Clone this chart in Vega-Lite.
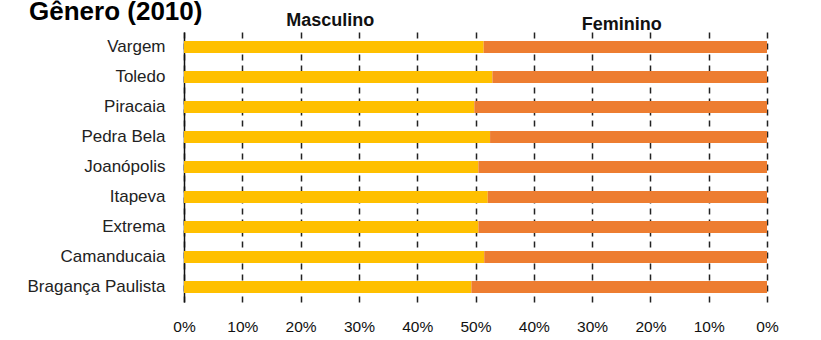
{
  "$schema": "https://vega.github.io/schema/vega-lite/v6.json",
  "width": 583,
  "height": 270,
  "autosize": {"type": "none"},
  "padding": {"left": 184, "top": 32, "right": 54, "bottom": 38},
  "background": "white",
  "title": {"text": "Gênero (2010)", "anchor": "start", "frame": "bounds", "fontSize": 26, "font": "Liberation Sans", "fontWeight": "bold", "color": "#000", "offset": 2, "dy": 16, "dx": 2},
  "config": {"view": {"stroke": null}},
  "layer": [
    {
      "data": {"values": [
        {"municipio": "Vargem", "genero": "Masculino", "valor": 51.4},
        {"municipio": "Vargem", "genero": "Feminino", "valor": 48.6},
        {"municipio": "Toledo", "genero": "Masculino", "valor": 52.9},
        {"municipio": "Toledo", "genero": "Feminino", "valor": 47.1},
        {"municipio": "Piracaia", "genero": "Masculino", "valor": 49.8},
        {"municipio": "Piracaia", "genero": "Feminino", "valor": 50.2},
        {"municipio": "Pedra Bela", "genero": "Masculino", "valor": 52.5},
        {"municipio": "Pedra Bela", "genero": "Feminino", "valor": 47.5},
        {"municipio": "Joanópolis", "genero": "Masculino", "valor": 50.5},
        {"municipio": "Joanópolis", "genero": "Feminino", "valor": 49.5},
        {"municipio": "Itapeva", "genero": "Masculino", "valor": 52.1},
        {"municipio": "Itapeva", "genero": "Feminino", "valor": 47.9},
        {"municipio": "Extrema", "genero": "Masculino", "valor": 50.5},
        {"municipio": "Extrema", "genero": "Feminino", "valor": 49.5},
        {"municipio": "Camanducaia", "genero": "Masculino", "valor": 51.5},
        {"municipio": "Camanducaia", "genero": "Feminino", "valor": 48.5},
        {"municipio": "Bragança Paulista", "genero": "Masculino", "valor": 49.3},
        {"municipio": "Bragança Paulista", "genero": "Feminino", "valor": 50.7}
      ]},
      "mark": {"type": "bar"},
      "encoding": {
        "y": {"field": "municipio", "type": "nominal", "sort": null,
          "scale": {"paddingInner": 0.6, "paddingOuter": 0.3},
          "axis": {"title": null, "domain": true, "domainColor": "#111", "domainWidth": 1.5, "ticks": false, "grid": false, "labelFontSize": 17, "labelPadding": 19, "labelColor": "#222", "labelFont": "Liberation Sans"}},
        "x": {"field": "valor", "type": "quantitative", "stack": "zero",
          "scale": {"domain": [0, 100], "nice": false},
          "axis": {"title": null, "orient": "bottom", "values": [0, 10, 20, 30, 40, 50, 60, 70, 80, 90, 100],
            "labelExpr": "(datum.value <= 50 ? datum.value : 100 - datum.value) + '%'",
            "domain": false, "ticks": false, "grid": true, "gridDash": [6, 5], "gridColor": "#222", "gridWidth": 1.5,
            "labelFontSize": 15.5, "labelPadding": 17, "labelColor": "#111", "labelFont": "Liberation Sans", "labelFlush": false, "labelOverlap": false}},
        "color": {"field": "genero", "type": "nominal",
          "scale": {"domain": ["Masculino", "Feminino"], "range": ["#FFC000", "#ED7D31"]}, "legend": null},
        "order": {"field": "genero", "sort": "descending"}
      }
    },
    {
      "data": {"values": [
        {"genero": "Masculino", "pos": 25},
        {"genero": "Feminino", "pos": 75}
      ]},
      "mark": {"type": "text", "opacity": 0},
      "encoding": {
        "x": {"field": "pos", "type": "quantitative",
          "axis": {"orient": "top", "title": null, "values": [25, 75],
            "labelExpr": "datum.value < 50 ? 'Masculino' : 'Feminino'",
            "domain": false, "ticks": false, "grid": false,
            "labelFontSize": 18, "labelFontWeight": "bold", "labelColor": "#111", "labelFont": "Liberation Sans",
            "labelPadding": {"condition": {"test": "datum.value > 50", "value": -1}, "value": 3}}},
        "text": {"field": "genero"}
      }
    }
  ],
  "resolve": {"axis": {"x": "independent"}}
}
